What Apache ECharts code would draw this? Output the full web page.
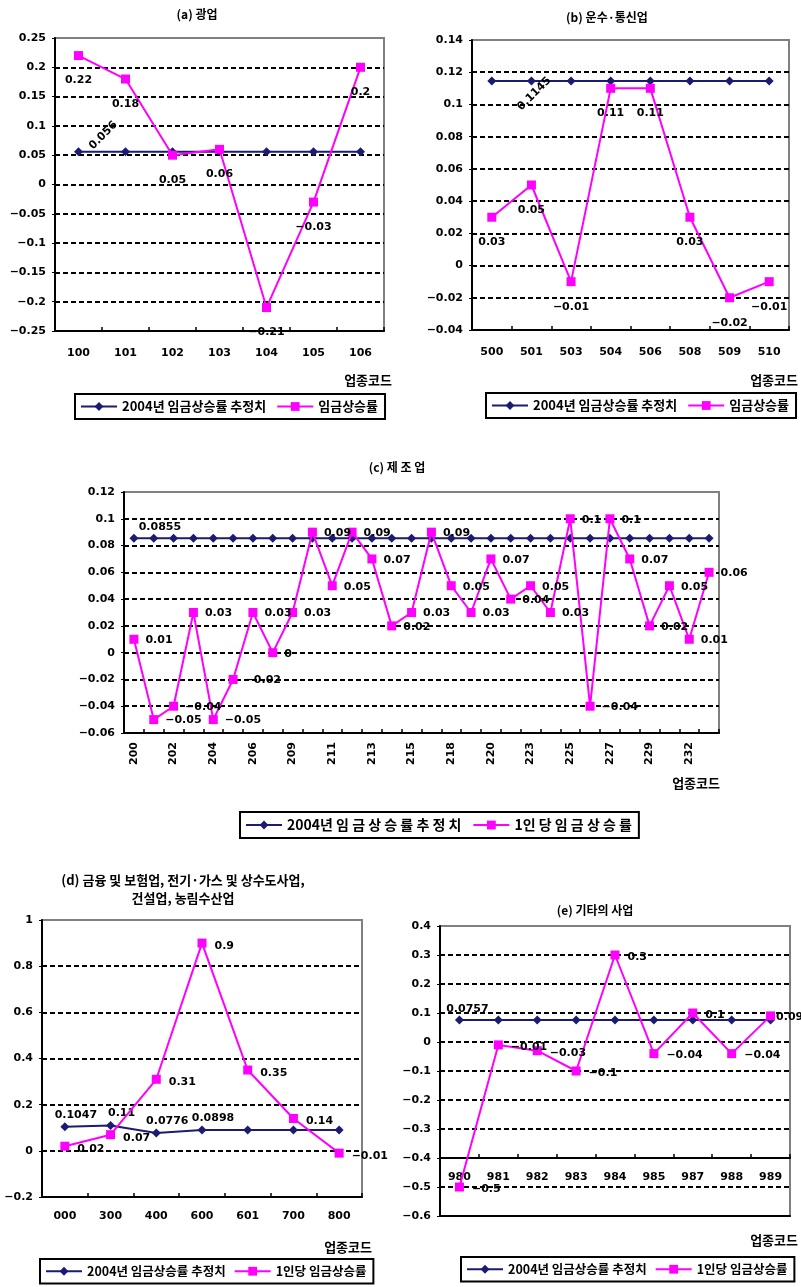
<!DOCTYPE html>
<html><head><meta charset="utf-8">
<script src="https://cdn.jsdelivr.net/npm/echarts@6/dist/echarts.min.js"></script>
<style>html,body{margin:0;padding:0;background:#fff}#c{width:801px;height:1287px}</style>
</head><body><div id="c"></div>
<script>
// ---------- data ----------
const NAME_EST = '2004년 임금상승률 추정치';
const NAME_RATE = '임금상승률';
const NAME_RATE_PC = '1인당 임금상승률';

const catsA = ['100','101','102','103','104','105','106'];
const estA  = [0.056,0.056,0.056,0.056,0.056,0.056,0.056];
const rateA = [0.22,0.18,0.05,0.06,-0.21,-0.03,0.2];

const catsB = ['500','501','503','504','506','508','509','510'];
const estB  = [0.1145,0.1145,0.1145,0.1145,0.1145,0.1145,0.1145,0.1145];
const rateB = [0.03,0.05,-0.01,0.11,0.11,0.03,-0.02,-0.01];

const catsC = ['200','201','202','203','204','205','206','207','209','210','211','212','213','214','215',
               '216','218','219','220','221','223','224','225','226','227','228','229','230','232','233'];
const estC  = [0.0855,0.0855,0.0855,0.0855,0.0855,0.0855,0.0855,0.0855,0.0855,0.0855,
               0.0855,0.0855,0.0855,0.0855,0.0855,0.0855,0.0855,0.0855,0.0855,0.0855,
               0.0855,0.0855,0.0855,0.0855,0.0855,0.0855,0.0855,0.0855,0.0855,0.0855];
const rateC = [0.01,-0.05,-0.04,0.03,-0.05,-0.02,0.03,0,0.03,0.09,
               0.05,0.09,0.07,0.02,0.03,0.09,0.05,0.03,0.07,0.04,
               0.05,0.03,0.1,-0.04,0.1,0.07,0.02,0.05,0.01,0.06];

const catsD = ['000','300','400','600','601','700','800'];
const estD  = [0.1047,0.11,0.0776,0.0898,0.0898,0.0898,0.0898];
const rateD = [0.02,0.07,0.31,0.9,0.35,0.14,-0.01];

const catsE = ['980','981','982','983','984','985','987','988','989'];
const estE  = [0.0757,0.0757,0.0757,0.0757,0.0757,0.0757,0.0757,0.0757,0.0757];
const rateE = [-0.5,-0.01,-0.03,-0.1,0.3,-0.04,0.1,-0.04,0.09];

// ---------- style ----------
const BLUE = '#1b1b72', PINK = '#ff00ff';
const NUM_FONT = 'DejaVu Sans';
const KR_FONT = '"Noto Sans CJK KR", sans-serif';

function fmt(v){ const n = +(+v).toFixed(4); return n < 0 ? '\u2212' + String(-n) : String(n); }

const grids = [
  {left:55,  top:38,  width:329, height:293},
  {left:472, top:40,  width:317, height:290},
  {left:124, top:492, width:595, height:241},
  {left:42,  top:920, width:320, height:277},
  {left:440, top:926, width:350, height:290}
].map(g => Object.assign({show:true, borderColor:'#808080', borderWidth:2, backgroundColor:'#fff'}, g));

function xCat(gi, data, o) {
  o = o || {};
  return {
    type:'category', gridIndex:gi, data:data, boundaryGap:true, position:'bottom',
    offset: o.offset || 0,
    axisLine:{show:true, onZero:false, lineStyle:{color:'#000', width:2}},
    axisTick:{show: o.noTick ? false : true, inside:true, length:4, interval:0, lineStyle:{color:'#000', width:1.5}},
    axisLabel:{show: o.noLabel ? false : true, interval: o.labelInterval || 0, rotate: o.rotate || 0,
      margin: o.margin == null ? 16 : o.margin, color:'#000', fontFamily:NUM_FONT, fontSize:11, fontWeight:'bold'},
    splitLine:{show:false}
  };
}
function yVal(gi, min, max, interval) {
  return {
    type:'value', gridIndex:gi, min:min, max:max, interval:interval,
    axisLine:{show:true, lineStyle:{color:'#000', width:2}},
    axisTick:{show:true, length:3, lineStyle:{color:'#000'}},
    axisLabel:{margin:9, color:'#000', fontFamily:NUM_FONT, fontSize:11, fontWeight:'bold', formatter: fmt},
    splitLine:{show:true, showMinLine:false, showMaxLine:false, lineStyle:{color:'#000', width:2, type:[5,3]}}
  };
}

const numLabel = {color:'#000', fontFamily:NUM_FONT, fontSize:11, fontWeight:'bold', formatter: p => fmt(p.value)};

function withLabels(data, labelFn) {
  return data.map((v,i) => { const l = labelFn ? labelFn(i) : null; return l ? {value:v, label:Object.assign({show:true}, numLabel, l)} : {value:v}; });
}
function estSeries(gi, data, labelFn, xi) {
  return {
    type:'line', name:NAME_EST, xAxisIndex: xi == null ? gi : xi, yAxisIndex:gi,
    symbol:'diamond', symbolSize:9, itemStyle:{color:BLUE}, lineStyle:{color:BLUE, width:2},
    data: withLabels(data, labelFn), label:{show:false}, z:3, animation:false
  };
}
function rateSeries(gi, name, data, label, labelFn, xi) {
  return {
    type:'line', name:name, xAxisIndex: xi == null ? gi : xi, yAxisIndex:gi,
    symbol:'rect', symbolSize:9, itemStyle:{color:PINK}, lineStyle:{color:PINK, width:2},
    data: labelFn ? data.map((v,i) => { const l = labelFn(i); return l ? {value:v, label:l} : v; }) : data,
    label: Object.assign({show:true}, numLabel, label), z:4, animation:false
  };
}

function spaced(s) { return s.replace(/([\uAC00-\uD7A3])(?=[\uAC00-\uD7A3])/g, '$1 '); }

function legendAt(left, top, names, fontSize, gap, spacedText, width) {
  return {
    left:left, top:top, width: width || 'auto', data:names, orient:'horizontal', selectedMode:false,
    itemWidth:36, itemHeight:11, itemGap:gap || 10, padding:[6,7,6,5],
    borderColor:'#000', borderWidth:2, backgroundColor:'#fff',
    formatter: spacedText ? spaced : undefined,
    textStyle:{fontFamily:KR_FONT, fontWeight:'bold', fontSize:fontSize || 13, color:'#000'}
  };
}

function txt(x, y, text, align, size) {
  return {type:'text', x:x, y:y, z:100, style:{text:text, textAlign:align || 'center', textVerticalAlign:'middle',
    font:'bold ' + (size || 12) + 'px ' + KR_FONT, fill:'#000'}};
}

const option = {
  animation:false,
  backgroundColor:'#fff',
  grid: grids,
  xAxis: [
    xCat(0, catsA, {margin:17}),
    xCat(1, catsB, {margin:17}),
    xCat(2, catsC, {labelInterval:1, rotate:90, margin:9}),
    xCat(3, catsD, {margin:14}),
    xCat(4, catsE, {offset:-58, margin:14}),
    xCat(4, catsE, {noTick:true, noLabel:true})
  ],
  yAxis: [
    yVal(0, -0.25, 0.25, 0.05),
    yVal(1, -0.04, 0.14, 0.02),
    yVal(2, -0.06, 0.12, 0.02),
    yVal(3, -0.2, 1, 0.2),
    yVal(4, -0.6, 0.4, 0.1)
  ],
  legend: [
    legendAt(75, 394, [NAME_EST, NAME_RATE], 13, 10),
    legendAt(486, 393, [NAME_EST, NAME_RATE], 13, 10),
    legendAt(240, 812, [NAME_EST, NAME_RATE_PC], 14, 11, true),
    legendAt(40, 1259, [NAME_EST, NAME_RATE_PC], 12.5, 8, false, 360),
    legendAt(461, 1257, [NAME_EST, NAME_RATE_PC], 12.5, 8, false, 338)
  ],
  series: [
    estSeries(0, estA, i => i === 0 ? {position:'inside', rotate:45, offset:[29,6]} : null),
    rateSeries(0, NAME_RATE, rateA, {position:'bottom', distance:15}),
    estSeries(1, estB, i => i === 1 ? {position:'inside', rotate:45, offset:[-7,11]} : null),
    rateSeries(1, NAME_RATE, rateB, {position:'bottom', distance:15}),
    estSeries(2, estC, i => i === 0 ? {position:'top', distance:1, offset:[26,0]} : null),
    rateSeries(2, NAME_RATE_PC, rateC, {position:'right', distance:7, offset:[0,1]}),
    estSeries(3, estD, i => i < 4 ? {position:'top', distance:2, offset:[11,0]} : null),
    rateSeries(3, NAME_RATE_PC, rateD, {position:'right', distance:8, offset:[0,3]}),
    estSeries(4, estE, i => i === 0 ? {position:'top', distance:1, offset:[8,0]} : null, 4),
    rateSeries(4, NAME_RATE_PC, rateE, {position:'right', distance:8, offset:[0,2]},
      i => i === rateE.length - 1 ? {offset:[-7,1]} : null, 4)
  ],
  graphic: [
    txt(197, 14, '(a) 광업'),
    txt(607, 17, '(b) 운수·통신업'),
    txt(397, 467, '(c) 제 조 업'),
    txt(183, 880, '(d) 금융 및 보험업, 전기·가스 및 상수도사업,', 'center', 13),
    txt(183, 898, '건설업, 농림수산업', 'center', 13),
    txt(595, 910, '(e) 기타의 사업'),
    txt(392, 380, '업종코드', 'right', 13),
    txt(798, 380, '업종코드', 'right', 13),
    txt(720, 783, '업종코드', 'right', 13),
    txt(372, 1247, '업종코드', 'right', 13),
    txt(798, 1240, '업종코드', 'right', 13)
  ]
};

const chart = echarts.init(document.getElementById('c'), null, {renderer:'canvas'});
chart.setOption(option);
</script>
</body></html>
